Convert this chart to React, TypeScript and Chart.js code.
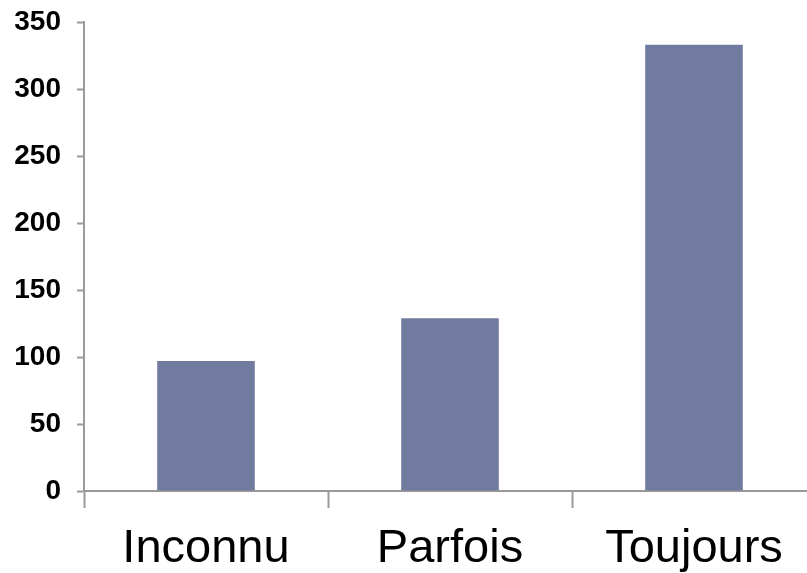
import React, { useEffect, useRef } from "react";
import { Chart, registerables } from "chart.js";

Chart.register(...registerables);

const categories = ["Inconnu", "Parfois", "Toujours"];
const values = [97, 129, 333];
const yMin = 0;
const yMax = 350;
const yStep = 50;

export default function App() {
  const ref = useRef<HTMLCanvasElement | null>(null);
  useEffect(() => {
    if (!ref.current) return;
    const axisColor = "#9a9a9a";
    const chart = new Chart(ref.current, {
      type: "bar",
      data: {
        labels: categories,
        datasets: [
          {
            data: values,
            backgroundColor: "#717ba0",
            borderWidth: 0,
            barPercentage: 0.8,
            categoryPercentage: 0.5,
          },
        ],
      },
      options: {
        responsive: false,
        animation: false,
        layout: { padding: 0 },
        plugins: { legend: { display: false }, tooltip: { enabled: false } },
        scales: {
          x: {
            grid: {
              display: true,
              drawOnChartArea: false,
              drawTicks: true,
              tickLength: 17,
              tickColor: axisColor,
              tickWidth: 2,
              offset: true,
            },
            border: { display: true, color: axisColor, width: 2 },
            ticks: {
              color: "#000",
              font: { family: "Liberation Sans, Arial, sans-serif", size: 47 },
              padding: 13,
              maxRotation: 0,
            },
            afterFit: (s: any) => {
              s.height = 82;
              s.paddingLeft = 0;
              s.paddingRight = 0;
            },
          },
          y: {
            min: yMin,
            max: yMax,
            grid: {
              display: true,
              drawOnChartArea: false,
              drawTicks: true,
              tickLength: 7,
              tickColor: axisColor,
              tickWidth: 2,
            },
            border: { display: true, color: axisColor, width: 2 },
            ticks: {
              stepSize: yStep,
              color: "#000",
              font: { family: "Liberation Sans, Arial, sans-serif", size: 28, weight: "bold" },
              padding: 16,
            },
            afterFit: (s: any) => {
              s.width = 84;
              s.paddingTop = 22;
              s.paddingBottom = 0;
            },
          },
        },
      },
    });
    return () => chart.destroy();
  }, []);
  return (
    <div style={{ position: "absolute", left: 0, top: 0, width: 807, height: 573, overflow: "hidden" }}>
      <canvas ref={ref} width={816} height={573} />
    </div>
  );
}
